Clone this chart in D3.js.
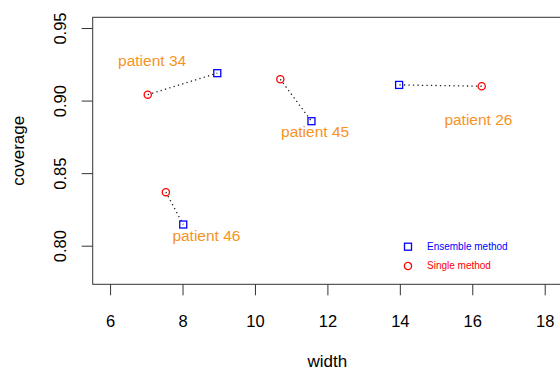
<!DOCTYPE html>
<html>
<head>
<meta charset="utf-8">
<script src="https://cdn.jsdelivr.net/npm/d3@7"></script>
<style>
  html, body { margin: 0; padding: 0; background: #fff; }
  svg { display: block; font-family: "Liberation Sans", Arial, Helvetica, sans-serif; }
</style>
</head>
<body>
<svg id="chart" width="560" height="371"></svg>
<script>
// Patients compared under the two methods
const patients = ["patient 34", "patient 45", "patient 46", "patient 26"];

// Ensemble method: interval width and coverage
const ensembleWidth    = [8.96, 11.56, 8.02, 13.98];
const ensembleCoverage = [0.9189, 0.8858, 0.8146, 0.9108];

// Single method: interval width and coverage
const singleWidth    = [7.04, 10.70, 7.54, 16.26];
const singleCoverage = [0.9041, 0.9147, 0.8369, 0.9099];

// Where each patient's label sits, in data units
const labelWidth    = [7.16, 11.66, 8.66, 16.17];
const labelCoverage = [0.9269, 0.8784, 0.8066, 0.8867];

// Axis ticks
const xTicks = [6, 8, 10, 12, 14, 16, 18];
const yTicks = [0.80, 0.85, 0.90, 0.95];

// Legend entries
const legendLabels = ["Ensemble method", "Single method"];

const svg = d3.select("#chart");

const plot = { left: 92.7, right: 562.1, top: 17.3, bottom: 284.3 };

const x = d3.scaleLinear().domain([5.52, 18.48]).range([plot.left, plot.right]);
const y = d3.scaleLinear().domain([0.7734, 0.9574]).range([plot.bottom, plot.top]);

const axisColor = "#333";
const labelColor = "#f7931e";

// x axis
const xAxis = svg.append("g")
  .attr("transform", `translate(0,${plot.bottom})`)
  .call(d3.axisBottom(x).tickValues(xTicks).tickFormat(d3.format("d")).tickSize(11).tickPadding(20));
xAxis.select(".domain").remove();
xAxis.selectAll(".tick line").attr("stroke", axisColor).attr("stroke-width", 1);
xAxis.selectAll(".tick text").attr("fill", "#000").attr("font-size", 16.5)
  .attr("font-family", "Liberation Sans, Arial, sans-serif");

// y axis, labels rotated as in base graphics
const yAxis = svg.append("g")
  .attr("transform", `translate(${plot.left},0)`)
  .call(d3.axisLeft(y).tickValues(yTicks).tickFormat(d3.format(".2f")).tickSize(11));
yAxis.select(".domain").remove();
yAxis.selectAll(".tick line").attr("stroke", axisColor).attr("stroke-width", 1);
yAxis.selectAll(".tick text")
  .attr("fill", "#000").attr("font-size", 16.5)
  .attr("font-family", "Liberation Sans, Arial, sans-serif")
  .attr("x", null).attr("dy", null)
  .attr("text-anchor", "middle")
  .attr("transform", "translate(-27,0) rotate(-90)");

// plot frame
svg.append("rect")
  .attr("x", plot.left).attr("y", plot.top)
  .attr("width", plot.right - plot.left).attr("height", plot.bottom - plot.top)
  .attr("fill", "none").attr("stroke", axisColor).attr("stroke-width", 1);

// axis titles
svg.append("text")
  .attr("x", (plot.left + plot.right) / 2).attr("y", 366.5)
  .attr("text-anchor", "middle").attr("font-size", 17).text("width");
svg.append("text")
  .attr("transform", `translate(23.5,${(plot.top + plot.bottom) / 2}) rotate(-90)`)
  .attr("text-anchor", "middle").attr("font-size", 17).text("coverage");

// dotted connectors between the two methods
svg.append("g").selectAll("line")
  .data(patients.map((p, i) => i))
  .join("line")
  .attr("x1", i => x(singleWidth[i])).attr("y1", i => y(singleCoverage[i]))
  .attr("x2", i => x(ensembleWidth[i])).attr("y2", i => y(ensembleCoverage[i]))
  .attr("stroke", "#222").attr("stroke-width", 1.3)
  .attr("stroke-dasharray", "1.3,3.2");

// ensemble points (squares)
const sq = 7;
svg.append("g").selectAll("rect")
  .data(patients.map((p, i) => i))
  .join("rect")
  .attr("x", i => x(ensembleWidth[i]) - sq / 2)
  .attr("y", i => y(ensembleCoverage[i]) - sq / 2)
  .attr("width", sq).attr("height", sq)
  .attr("fill", "none").attr("stroke", "#0000ff").attr("stroke-width", 1.3);

// single points (circles)
svg.append("g").selectAll("circle")
  .data(patients.map((p, i) => i))
  .join("circle")
  .attr("cx", i => x(singleWidth[i]))
  .attr("cy", i => y(singleCoverage[i]))
  .attr("r", 3.6)
  .attr("fill", "none").attr("stroke", "#ff0000").attr("stroke-width", 1.3);

// patient labels
svg.append("g").selectAll("text")
  .data(patients.map((p, i) => i))
  .join("text")
  .attr("x", i => x(labelWidth[i]))
  .attr("y", i => y(labelCoverage[i]))
  .attr("dy", "0.3em")
  .attr("text-anchor", "middle")
  .attr("font-size", 15.5)
  .attr("fill", labelColor)
  .text(i => patients[i]);

// legend
const legend = svg.append("g").attr("transform", "translate(408,246.7)");
legend.append("rect")
  .attr("x", -sq / 2).attr("y", -sq / 2).attr("width", sq).attr("height", sq)
  .attr("fill", "none").attr("stroke", "#0000ff").attr("stroke-width", 1.3);
legend.append("circle")
  .attr("cx", 0).attr("cy", 19.3).attr("r", 3.6)
  .attr("fill", "none").attr("stroke", "#ff0000").attr("stroke-width", 1.3);
legend.append("text")
  .attr("x", 19).attr("y", 0).attr("dy", "0.35em")
  .attr("font-size", 10).attr("fill", "#0000ff").text(legendLabels[0]);
legend.append("text")
  .attr("x", 19).attr("y", 19.3).attr("dy", "0.35em")
  .attr("font-size", 10).attr("fill", "#ff0000").text(legendLabels[1]);
</script>
</body>
</html>
